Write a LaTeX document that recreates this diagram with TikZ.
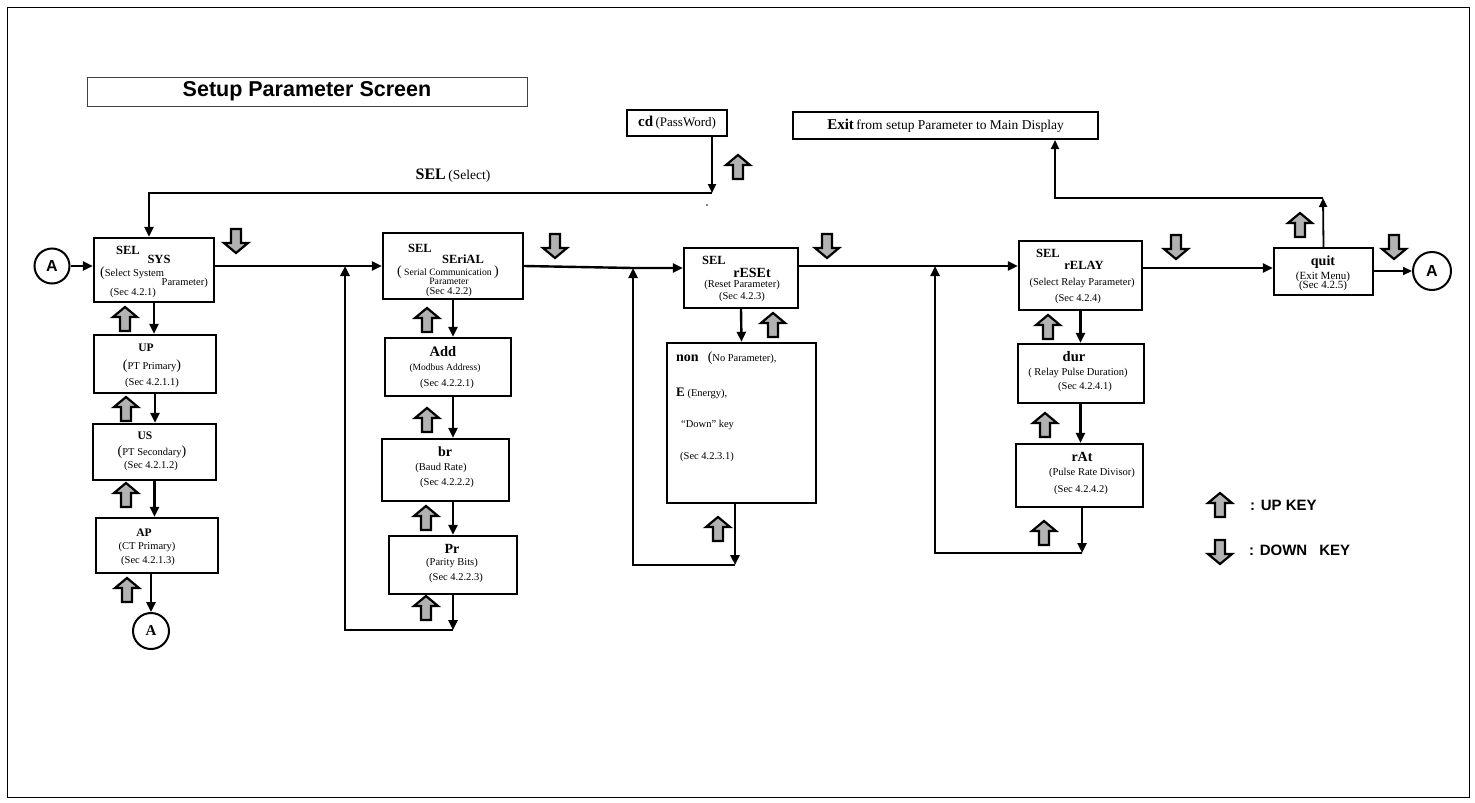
\documentclass[tikz,border=0pt]{standalone}
\usepackage{fontspec}
\setmainfont{Liberation Serif}
\setsansfont{Liberation Sans}
\usetikzlibrary{arrows.meta}
\newcommand\fs[1]{\fontsize{#1}{#1}\selectfont}
\newcommand\bp[1]{{\fs{14}#1}}
\tikzset{
  keyline/.style={line width=2.2pt,fill=black!30,line join=miter},
  upkey/.pic={\draw[keyline] (0,-12)--(12,-2)--(5,-2)--(5,12)--(-5,12)--(-5,-2)--(-12,-2)--cycle;},
  dnkey/.pic={\draw[keyline] (0,12)--(12,2)--(5,2)--(5,-12)--(-5,-12)--(-5,2)--(-12,2)--cycle;}
}
\begin{document}
\begin{tikzpicture}[x=1pt,y=-1pt,
  box/.style={draw,line width=2.4pt,inner sep=0pt},
  nm/.style={inner sep=0pt,font=\fs{12.5}\bfseries},
  sm/.style={inner sep=0pt,font=\fs{10.5}},
  circ/.style={draw,circle,line width=2pt,inner sep=0pt,minimum size=35},
  flow/.style={line width=2.4pt,-{Triangle[length=10pt,width=9pt]}},
  link/.style={line width=1.8pt,-{Triangle[length=9pt,width=8pt]}}]
\useasboundingbox (0,0) rectangle (1475,803);
\draw[line width=1pt] (7,7) rectangle (1469,797);
\node[draw=black!75,line width=1pt,minimum width=440,minimum height=29,font=\sffamily\bfseries\fs{21.5}] (title) at (307,91.5) {Setup Parameter Screen};
\node[box,line width=2pt,minimum width=100,minimum height=26] (cd) at (677,123) {{\fs{15}\bfseries cd} {\fs{13}(PassWord)}};
\node[box,line width=2pt,minimum width=305,minimum height=27] (exit) at (945.5,125.5) {{\fs{15}\bfseries Exit} {\fs{13.5}from setup Parameter to Main Display}};
\node[inner sep=0pt] (sel) at (453,176) {{\fs{16}\bfseries SEL} {\fs{13.5}(Select)}};
\fill (707,205) circle (0.8);

\node[box,minimum width=120,minimum height=64] (sys) at (154,270) {};
\node[box,minimum width=122,minimum height=58] (up) at (155,364) {};
\node[box,minimum width=123,minimum height=56] (us) at (154.5,452) {};
\node[box,minimum width=122,minimum height=55] (ap) at (157,545.5) {};
\node[box,minimum width=140,minimum height=66] (serial) at (453,266) {};
\node[box,minimum width=126,minimum height=58] (add) at (448,367) {};
\node[box,minimum width=127,minimum height=62] (br) at (445.5,470) {};
\node[box,minimum width=128,minimum height=58] (pr) at (453,565) {};
\node[box,minimum width=114,minimum height=60] (reset) at (741,278) {};
\node[box,minimum width=149,minimum height=160] (non) at (741.5,423) {};
\node[box,minimum width=123,minimum height=69] (relay) at (1080.5,275.5) {};
\node[box,minimum width=126,minimum height=59] (dur) at (1081,373.5) {};
\node[box,minimum width=127,minimum height=63] (rat) at (1079.5,475.5) {};
\node[box,minimum width=99,minimum height=47] (quit) at (1323.5,271.5) {};

\node[circ,font=\sffamily\bfseries\fs{16}] (aL) at (52,266) {A};
\node[circ,minimum size=36,font=\bfseries\fs{15}] (aB) at (151,631) {A};
\node[circ,minimum size=38,font=\sffamily\bfseries\fs{16}] (aR) at (1432,271) {A};

\node[nm] (sys1) at (128,250) {SEL};
\node[nm] (sys2) at (159,259) {SYS};
\node[sm,anchor=west] (sys3) at (100,273) {\bp{(}Select System};
\node[sm,anchor=east] (sys4) at (208,283) {Parameter)};
\node[sm] (sys5) at (133,293) {(Sec 4.2.1)};
\node[nm,font=\fs{11.5}\bfseries] (up1) at (146,348) {UP};
\node[sm] (up2) at (152,366) {\bp{(}PT Primary\bp{)}};
\node[sm] (up3) at (152,383) {(Sec 4.2.1.1)};
\node[nm,font=\fs{11.5}\bfseries] (us1) at (145,436) {US};
\node[sm] (us2) at (152,452) {\bp{(}PT Secondary\bp{)}};
\node[sm] (us3) at (151,466) {(Sec 4.2.1.2)};
\node[nm,font=\fs{11.5}\bfseries] (ap1) at (144,533) {AP};
\node[sm] (ap2) at (147,547) {(CT Primary)};
\node[sm] (ap3) at (148,561) {(Sec 4.2.1.3)};

\node[nm] (ser1) at (420,248) {SEL};
\node[nm] (ser2) at (463,259) {SEriAL};
\node[sm,font=\fs{9.7}] (ser3) at (448,272) {\bp{(} Serial Communication \bp{)}};
\node[sm,font=\fs{9.7}] (ser4) at (449,281) {Parameter};
\node[sm] (ser5) at (449,292) {(Sec 4.2.2)};
\node[nm,font=\fs{14.5}\bfseries] (add1) at (443,352) {Add};
\node[sm,font=\fs{9.5}] (add2) at (445,368) {(Modbus Address)};
\node[sm] (add3) at (447,384) {(Sec 4.2.2.1)};
\node[nm,font=\fs{14}\bfseries] (br1) at (445,452) {br};
\node[sm] (br2) at (441,468) {(Baud Rate)};
\node[sm] (br3) at (447,483) {(Sec 4.2.2.2)};
\node[nm,font=\fs{14}\bfseries] (pr1) at (452,549) {Pr};
\node[sm] (pr2) at (452,563) {(Parity Bits)};
\node[sm] (pr3) at (456,578) {(Sec 4.2.2.3)};

\node[nm] (res1) at (714,260) {SEL};
\node[nm,font=\fs{14}\bfseries] (res2) at (752,273) {rESEt};
\node[sm] (res3) at (742,285) {(Reset Parameter)};
\node[sm] (res4) at (742,297) {(Sec 4.2.3)};
\node[sm,anchor=west] (non1) at (676,358) {{\fs{14}\bfseries non}\hspace{9pt}\bp{(}No Parameter),};
\node[sm,anchor=west] (non2) at (676,393) {{\fs{13}\bfseries E} (Energy),};
\node[sm,anchor=west] (non3) at (681,425) {“Down” key};
\node[sm,anchor=west] (non4) at (680,457) {(Sec 4.2.3.1)};

\node[nm] (rel1) at (1048,253) {SEL};
\node[nm] (rel2) at (1084,265) {rELAY};
\node[sm] (rel3) at (1082,283) {(Select Relay Parameter)};
\node[sm] (rel4) at (1078,299) {(Sec 4.2.4)};
\node[nm,font=\fs{14.5}\bfseries] (dur1) at (1074,357) {dur};
\node[sm] (dur2) at (1078,373) {( Relay Pulse Duration)};
\node[sm] (dur3) at (1085,387) {(Sec 4.2.4.1)};
\node[nm,font=\fs{14}\bfseries] (rat1) at (1082,457) {rAt};
\node[sm] (rat2) at (1092,473) {(Pulse Rate Divisor)};
\node[sm] (rat3) at (1081,490) {(Sec 4.2.4.2)};
\node[nm,font=\fs{14}\bfseries] (quit1) at (1323,262) {quit};
\node[sm,font=\fs{11}] (quit2) at (1323,277) {(Exit Menu)};
\node[sm,font=\fs{11}] (quit3) at (1323,286) {(Sec 4.2.5)};

\node[inner sep=0pt,anchor=west,font=\sffamily\bfseries\fs{15}] (upl) at (1250,505) {: UP KEY};
\node[inner sep=0pt,anchor=west,font=\sffamily\bfseries\fs{15}] (dnl) at (1249,550) {: DOWN\hspace{12pt}KEY};

\coordinate (selj) at (712,193);
\coordinate (j1) at (345,266);
\coordinate (j2) at (633,268);
\coordinate (j3) at (935,266);
\coordinate (prb) at (453,630);
\coordinate (nonb) at (735,565);
\coordinate (ratb) at (1082,553);
\coordinate (ej) at (1323,198);

\draw[link] (cd.south -| selj) -- (selj);
\draw[flow] (selj) -| ([xshift=-5pt]sys.north);
\draw[flow] (aL) -- (aL -| sys.west);
\draw[flow] (serial.west -| sys.east) -- (serial.west);
\draw[flow] (sys.south) -- (sys.south |- up.north);
\draw[flow] (up.south) -- (up.south |- us.north);
\draw[flow] (us.south) -- (us.south |- ap.north);
\draw[flow] (ap.south -| aB) -- (aB.north);
\draw[flow] (serial.south) -- (serial.south |- add.north);
\draw[flow] (serial.south |- add.south) -- (serial.south |- br.north);
\draw[flow] (serial.south |- br.south) -- (serial.south |- pr.north);
\draw[flow] (pr.south) -- (prb);
\draw[flow] (prb) -| (j1);
\draw[flow] (serial.east) -- (j2) -- (j2 -| reset.west);
\draw[flow] (reset.south) -- (non.north);
\draw[flow] (non.south -| nonb) -- (nonb);
\draw[flow] (nonb) -| (j2);
\draw[flow] (reset.east |- j3) -- (j3 -| relay.west);
\draw[flow] (relay.south) -- (relay.south |- dur.north);
\draw[flow] (relay.south |- dur.south) -- (relay.south |- rat.north);
\draw[flow] (rat.south -| ratb) -- (ratb);
\draw[flow] (ratb) -| (j3);
\draw[flow] ([yshift=3.5pt]quit.west -| relay.east) -- ([yshift=3.5pt]quit.west);
\draw[link] (quit.east |- aR) -- (aR.west);
\draw[link] (quit.north) -- (ej);
\draw[link] (ej) -| ([xshift=109.5pt]exit.south);

\foreach \x/\y in {236/241,555/246,827/246,1176/247,1394/247,1220/552} \pic at (\x,\y) {dnkey};
\foreach \x/\y in {125/319,126/409,126/495,127/590,427/320,427/420,426/518,426/608,773/325,718/529,1048/327,1045/425,1044/533,738/167,1300/225,1220/505} \pic at (\x,\y) {upkey};
\end{tikzpicture}
\end{document}
